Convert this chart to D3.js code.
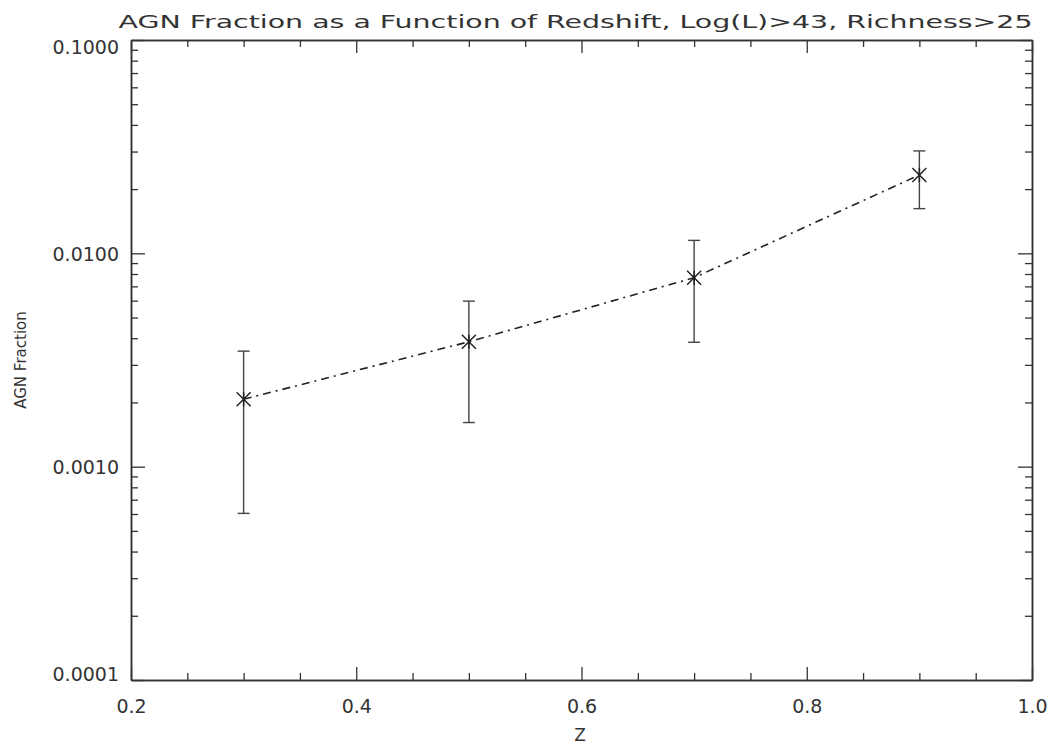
<!DOCTYPE html>
<html>
<head>
  <title>AGN Fraction vs Redshift</title>
  <script src="https://d3js.org/d3.v7.min.js"></script>
  <style>
    body { margin: 0; background: white; }
    svg text { font-family: "DejaVu Sans", sans-serif; fill: #333; }
  </style>
</head>
<body>
<svg id="chart" width="1054" height="746"></svg>
<script>
  // values
  var redshift = [0.3, 0.5, 0.7, 0.9];
  var agnFrac = [0.00207, 0.00385, 0.00769, 0.0233];
  var errHigh = [0.00348, 0.00597, 0.0115, 0.0302];
  var errLow = [0.000604, 0.00161, 0.00383, 0.0162];
  var xTicks = [0.2, 0.4, 0.6, 0.8, 1.0];
  var yTicks = [0.0001, 0.001, 0.01, 0.1];

  var titleText = "AGN Fraction as a Function of Redshift, Log(L)>43, Richness>25";

  var svg = d3.select("#chart");
  var pLeft = 131, pRight = 1032, pTop = 40, pBottom = 680;
  var ink = "#333";

  var x = d3.scaleLinear([0.2, 1.0], [pLeft, pRight]);
  var y = d3.scaleLog([0.0001, 0.1], [pBottom, pTop]);

  // minor ticks
  var xMinor = d3.range(0.25, 1.0, 0.05).filter(v => Math.abs(v * 5 - Math.round(v * 5)) > 1e-6);
  var yMinor = [];
  [0.0001, 0.001, 0.01].forEach(d => { for (var k = 2; k <= 9; k++) yMinor.push(d * k); });

  function styleAxis(g) {
    g.select(".domain").attr("stroke", ink).attr("stroke-width", 1.5);
    g.selectAll(".tick line").attr("stroke", ink).attr("stroke-width", 1.3);
    g.selectAll("text").attr("font-size", 19).attr("fill", ink);
  }

  // bottom
  var gb = svg.append("g").attr("transform", `translate(0,${pBottom})`)
    .call(d3.axisBottom(x).tickValues(xTicks).tickSize(-13).tickPadding(19.5).tickFormat(d3.format(".1f")).tickSizeOuter(0));
  styleAxis(gb);
  svg.append("g").attr("transform", `translate(0,${pBottom})`)
    .call(d3.axisBottom(x).tickValues(xMinor).tickSize(-7).tickFormat("").tickSizeOuter(0)).call(styleAxis);

  // top
  svg.append("g").attr("transform", `translate(0,${pTop})`)
    .call(d3.axisTop(x).tickValues(xTicks).tickSize(-13).tickFormat("").tickSizeOuter(0)).call(styleAxis);
  svg.append("g").attr("transform", `translate(0,${pTop})`)
    .call(d3.axisTop(x).tickValues(xMinor).tickSize(-7).tickFormat("").tickSizeOuter(0)).call(styleAxis);

  // left
  var gl = svg.append("g").attr("transform", `translate(${pLeft},0)`)
    .call(d3.axisLeft(y).tickValues(yTicks).tickSize(-14).tickPadding(12).tickFormat(d3.format(".4f")).tickSizeOuter(0));
  styleAxis(gl);
  gl.selectAll(".tick text").attr("dy", "0.36em")
    .attr("y", d => Math.min(Math.max(0, pTop + 7 - y(d)), pBottom - 6 - y(d)));
  svg.append("g").attr("transform", `translate(${pLeft},0)`)
    .call(d3.axisLeft(y).tickValues(yMinor).tickSize(-7).tickFormat("").tickSizeOuter(0)).call(styleAxis);

  // right
  svg.append("g").attr("transform", `translate(${pRight},0)`)
    .call(d3.axisRight(y).tickValues(yTicks).tickSize(-14).tickFormat("").tickSizeOuter(0)).call(styleAxis);
  svg.append("g").attr("transform", `translate(${pRight},0)`)
    .call(d3.axisRight(y).tickValues(yMinor).tickSize(-7).tickFormat("").tickSizeOuter(0)).call(styleAxis);

  // titles
  svg.append("text").attr("x", (pLeft + pRight) / 2 - 6).attr("y", 28)
    .attr("text-anchor", "middle").attr("font-size", 18)
    .attr("textLength", 914).attr("lengthAdjust", "spacingAndGlyphs")
    .text(titleText);
  svg.append("text").attr("x", 580).attr("y", 741)
    .attr("text-anchor", "middle").attr("font-size", 17).text("Z");
  svg.append("text").attr("transform", `translate(26,${(pTop + pBottom) / 2}) rotate(-90)`)
    .attr("text-anchor", "middle").attr("font-size", 15).text("AGN Fraction");

  var pts = redshift.map((z, i) => ({ z: z, f: agnFrac[i], hi: errHigh[i], lo: errLow[i] }));

  // connecting dash-dot line
  svg.append("path").datum(pts)
    .attr("d", d3.line().x(d => x(d.z)).y(d => y(d.f)))
    .attr("fill", "none").attr("stroke", "#222").attr("stroke-width", 1.6)
    .attr("stroke-dasharray", "8,5,2,5");

  // error bars
  var eb = svg.append("g").attr("stroke", "#444").attr("stroke-width", 1.4);
  eb.selectAll(".bar").data(pts).join("line").attr("class", "bar")
    .attr("x1", d => x(d.z)).attr("x2", d => x(d.z))
    .attr("y1", d => y(d.hi)).attr("y2", d => y(d.lo));
  eb.selectAll(".capHi").data(pts).join("line").attr("class", "capHi")
    .attr("x1", d => x(d.z) - 6).attr("x2", d => x(d.z) + 6)
    .attr("y1", d => y(d.hi)).attr("y2", d => y(d.hi));
  eb.selectAll(".capLo").data(pts).join("line").attr("class", "capLo")
    .attr("x1", d => x(d.z) - 6).attr("x2", d => x(d.z) + 6)
    .attr("y1", d => y(d.lo)).attr("y2", d => y(d.lo));

  // asterisk markers
  svg.append("g").selectAll("path").data(pts).join("path")
    .attr("transform", d => `translate(${x(d.z)},${y(d.f)})`)
    .attr("d", "M-7,-7L7,7M-7,7L7,-7M0,-7L0,7")
    .attr("fill", "none").attr("stroke", "#222").attr("stroke-width", 1.5);
</script>
</body>
</html>
